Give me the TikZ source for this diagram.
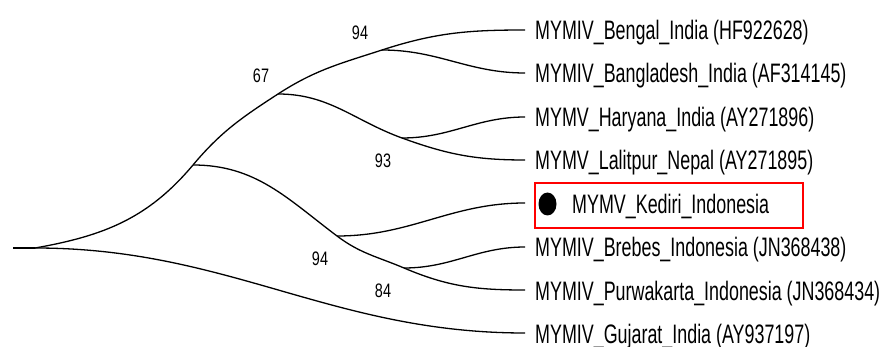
\documentclass[tikz,border=0pt]{standalone}
\usepackage{fontspec}
\usetikzlibrary{shapes.geometric}
\setmainfont{Liberation Sans}
\newfontfamily\leaffont[FakeStretch=0.67]{Liberation Sans}
\newfontfamily\numfont[FakeStretch=0.74]{Liberation Sans}
\begin{document}
\begin{tikzpicture}[x=1pt,y=-1pt,
  br/.style={line width=1.3pt},
  leaf/.style={anchor=base west, inner sep=0pt, font=\leaffont\fontsize{26.7}{30}\selectfont},
  bs/.style={inner sep=0pt, font=\numfont\fontsize{19.5}{22}\selectfont},
  hilite/.style={draw=red, line width=2pt, minimum width=268pt, minimum height=45pt, inner sep=0pt}]
\useasboundingbox (0,0) rectangle (888,347);
% internal nodes
\coordinate (s) at (13,248);
\coordinate (r) at (35,248);
\coordinate (nA) at (193,165);
\coordinate (n67) at (278,94);
\coordinate (n94a) at (382,50);
\coordinate (n93) at (402,138);
\coordinate (n94b) at (337,236);
\coordinate (n84) at (404,268);
% leaf ends
\coordinate (l1) at (525,30);
\coordinate (l2) at (525,73);
\coordinate (l3) at (525,117);
\coordinate (l4) at (525,160);
\coordinate (l5) at (525,203);
\coordinate (l6) at (525,247);
\coordinate (l7) at (525,290);
\coordinate (l8) at (525,333);
% branches
\draw[br] (s) -- (r);
\draw[br] (r) to[out=10,in=230] (nA);
\draw[br] (nA) to[out=50,in=213] (n67);
\draw[br] (n67) to[out=33,in=198] (n94a);
\draw[br] (n94a) to[out=18,in=180] (l1);
\draw[br] (n94a) to[out=0,in=180] (l2);
\draw[br] (n67) to[out=0,in=160] (n93);
\draw[br] (n93) to[out=0,in=180] (l3);
\draw[br] (n93) to[out=-20,in=180] (l4);
\draw[br] (nA) to[out=0,in=143] (n94b);
\draw[br] (n94b) to[out=0,in=180] (l5);
\draw[br] (n94b) to[out=-37,in=157] (n84);
\draw[br] (n84) to[out=0,in=180] (l6);
\draw[br] (n84) to[out=-23,in=180] (l7);
\draw[br] (r) to[out=0,in=180] (l8);
% bootstrap values
\node[bs] (b1) at (360,33) {94};
\node[bs] (b2) at (261,76) {67};
\node[bs] (b3) at (383,161) {93};
\node[bs] (b4) at (320,259) {94};
\node[bs] (b5) at (383,291) {84};
% leaf labels
\node[leaf] (t1) at (535,40) {MYMIV\_Bengal\_India (HF922628)};
\node[leaf] (t2) at (535,83) {MYMIV\_Bangladesh\_India (AF314145)};
\node[leaf] (t3) at (535,127) {MYMV\_Haryana\_India (AY271896)};
\node[leaf] (t4) at (535,170) {MYMV\_Lalitpur\_Nepal (AY271895)};
\node[hilite] (kbox) at (669,205.5) {};
\node[fill=black, ellipse, minimum width=18pt, minimum height=23pt, inner sep=0pt] (dot) at (547.5,204) {};
\node[leaf] (t5) at (572,214) {MYMV\_Kediri\_Indonesia};
\node[leaf] (t6) at (535,257) {MYMIV\_Brebes\_Indonesia (JN368438)};
\node[leaf] (t7) at (535,300) {MYMIV\_Purwakarta\_Indonesia (JN368434)};
\node[leaf] (t8) at (535,343) {MYMIV\_Gujarat\_India (AY937197)};
\end{tikzpicture}
\end{document}
